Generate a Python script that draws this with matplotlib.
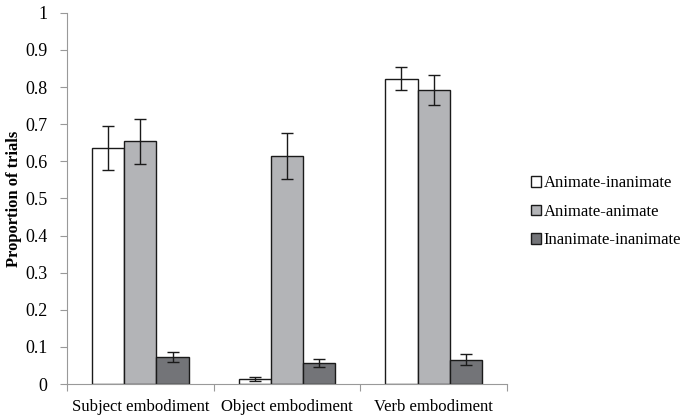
import matplotlib
matplotlib.use('Agg')
import matplotlib.pyplot as plt
import numpy as np

plt.rcParams['font.family'] = ['Liberation Serif', 'DejaVu Serif']

categories = ['Subject embodiment', 'Object embodiment', 'Verb embodiment']
series = ['Animate-inanimate', 'Animate-animate', 'Inanimate-inanimate']
values = [
    [0.635, 0.013, 0.823],   # Animate-inanimate
    [0.654, 0.614, 0.792],   # Animate-animate
    [0.072, 0.056, 0.066],   # Inanimate-inanimate
]
errors = [
    [0.059, 0.005, 0.030],
    [0.060, 0.062, 0.040],
    [0.013, 0.011, 0.016],
]
colors = ['#ffffff', '#b3b4b7', '#737478']

fig = plt.figure(figsize=(6.86, 4.16), dpi=100)
ax = fig.add_axes([0.0977, 0.0769, 0.6413, 0.8923])

x = np.arange(len(categories))
w = 0.22
for i in range(len(series)):
    ax.bar(x + (i - 1) * w, values[i], w, color=colors[i], edgecolor='#1a1a1a',
           linewidth=1.0, label=series[i], zorder=2,
           yerr=errors[i], capsize=4,
           error_kw=dict(ecolor='#1a1a1a', elinewidth=1.0, capthick=1.0))

ax.set_xlim(-0.5, 2.5)
ax.set_ylim(0, 1)
ax.set_yticks(np.arange(0, 1.01, 0.1))
ax.set_yticklabels(['0', '0.1', '0.2', '0.3', '0.4', '0.5', '0.6', '0.7', '0.8', '0.9', '1'])
ax.set_xticks([-0.5, 0.5, 1.5, 2.5])
ax.set_xticklabels([])
ax.set_xticks(x, minor=True)
ax.set_xticklabels(categories, minor=True)
ax.tick_params(axis='x', which='minor', length=0, labelsize=12, pad=11)
ax.tick_params(axis='x', which='major', length=5, color='#999999')
ax.tick_params(axis='y', length=5, color='#999999', labelsize=13, pad=9)

for s in ['top', 'right']:
    ax.spines[s].set_visible(False)
ax.spines['left'].set_color('#999999')
ax.spines['bottom'].set_color('#999999')

ax.set_ylabel('Proportion of trials', fontweight='bold', fontsize=12, labelpad=2)

ax.legend(loc='center left', bbox_to_anchor=(1.04, 0.464), frameon=False,
          fontsize=12, handlelength=0.6, handleheight=0.6, handletextpad=0.15,
          labelspacing=0.75, borderaxespad=0.0)

fig.savefig('out.png', dpi=100)
